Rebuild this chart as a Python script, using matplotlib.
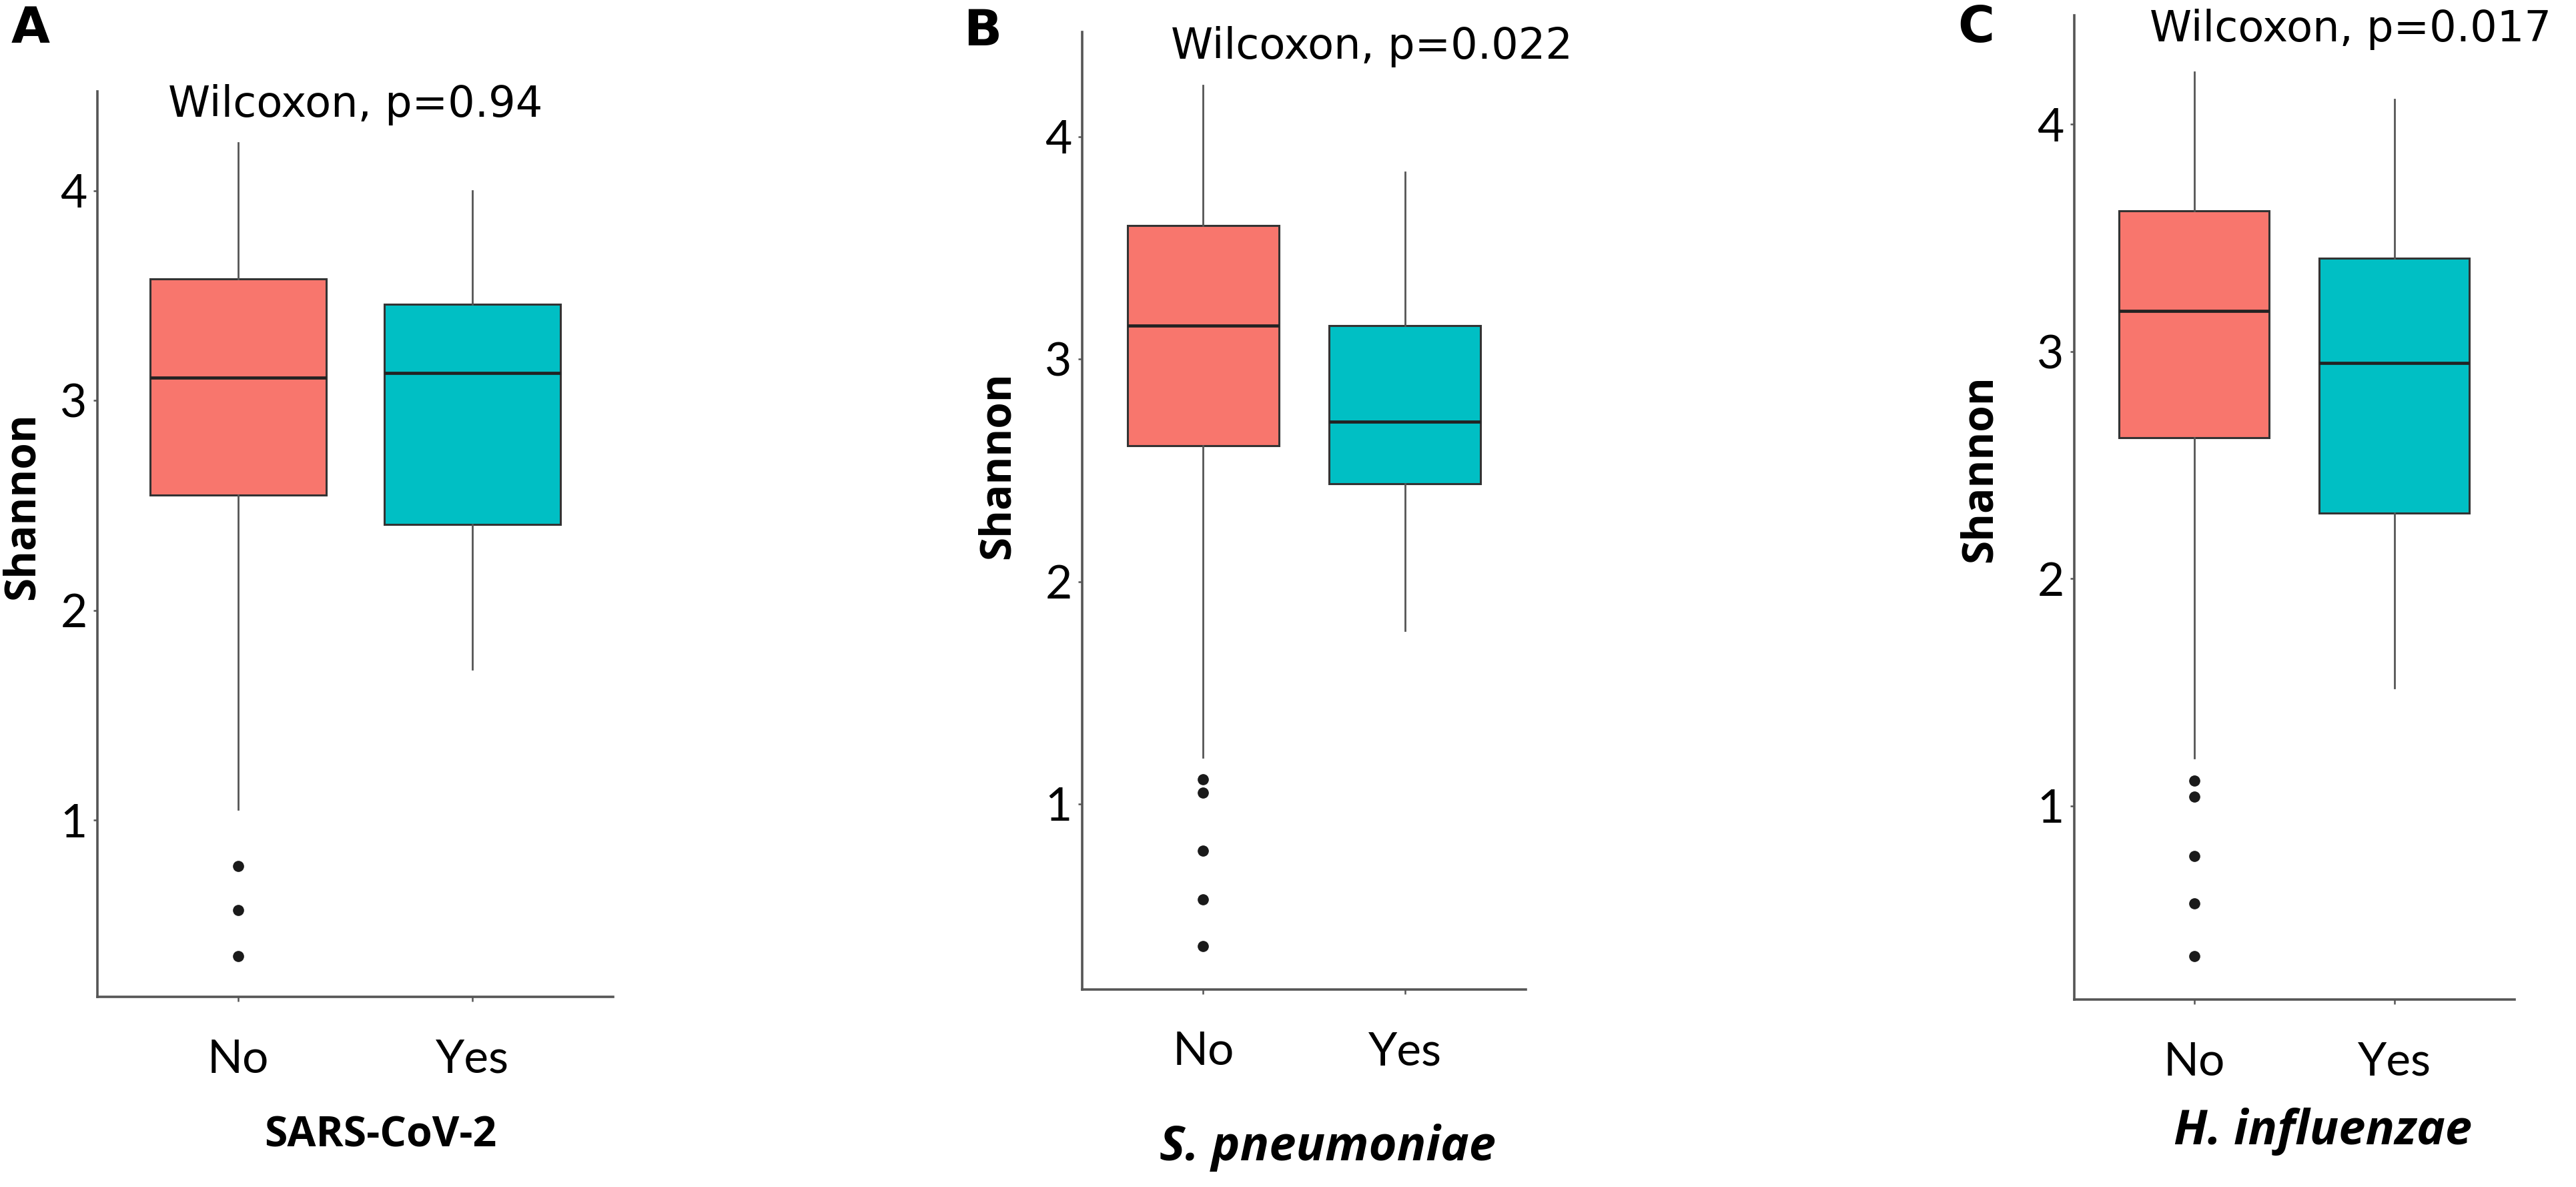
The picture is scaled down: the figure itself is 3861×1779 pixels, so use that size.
import matplotlib
matplotlib.use("Agg")
import matplotlib.pyplot as plt

# box statistics (Shannon index)
groups = ["No", "Yes"]
panel_letters = ["A", "B", "C"]
xlabels = ["SARS-CoV-2", "S. pneumoniae", "H. influenzae"]
xlabel_italic = [False, True, True]
p_texts = ["Wilcoxon, p=0.94", "Wilcoxon, p=0.022", "Wilcoxon, p=0.017"]

whislo = [[1.05, 1.72], [1.21, 1.78], [1.21, 1.52]]
q1 = [[2.55, 2.41], [2.61, 2.44], [2.62, 2.29]]
med = [[3.11, 3.13], [3.15, 2.72], [3.18, 2.95]]
q3 = [[3.58, 3.46], [3.60, 3.15], [3.62, 3.41]]
whishi = [[4.23, 4.00], [4.23, 3.84], [4.23, 4.11]]
fliers = [
    [[0.78, 0.57, 0.35], []],
    [[1.11, 1.05, 0.79, 0.57, 0.36], []],
    [[1.11, 1.04, 0.78, 0.57, 0.34], []],
]
yticks = [1, 2, 3, 4]

colors = ["#F8766D", "#00BFC4"]

# layout in pixels of the 3862x1779 canvas: left, top, right, bottom of each panel
W, H = 3862, 1779
boxes_px = [(146, 137, 919, 1494), (1622, 48, 2287, 1483), (3109, 23, 3769, 1498)]
ylims = [(0.157, 4.474), (0.166, 4.471), (0.148, 4.48)]
ptext_pos = [(1.5, 4.41), (1.835, 4.405), (1.78, 4.417)]
xlab_pos = [(0.549, -0.153), (0.553, -0.165), (0.564, -0.134)]
ylab_pos = [(-0.145, 0.542), (-0.19, 0.547), (-0.213, 0.539)]
letter_pos = [(46, 44), (1473, 48), (2962, 43)]

fig = plt.figure(figsize=(W / 100, H / 100), dpi=100)
axis_col = "#555555"

for i in range(3):
    l, t, r, b = boxes_px[i]
    ax = fig.add_axes([l / W, (H - b) / H, (r - l) / W, (b - t) / H])

    stats = []
    for j in range(2):
        stats.append(dict(med=med[i][j], q1=q1[i][j], q3=q3[i][j],
                          whislo=whislo[i][j], whishi=whishi[i][j],
                          fliers=fliers[i][j], label=groups[j]))
    bp = ax.bxp(stats, positions=[1, 2], widths=0.75, patch_artist=True,
                showcaps=False,
                boxprops=dict(edgecolor="#333333", linewidth=2.2),
                whiskerprops=dict(color="#555555", linewidth=2.0),
                medianprops=dict(color="#222222", linewidth=3.4),
                flierprops=dict(marker="o", markerfacecolor="#1a1a1a",
                                markeredgecolor="#1a1a1a", markersize=11))
    for patch, c in zip(bp["boxes"], colors):
        patch.set_facecolor(c)

    ax.set_xlim(0.4, 2.6)
    ax.set_ylim(*ylims[i])
    ax.set_yticks(yticks)
    ax.set_xticks([1, 2])
    ax.set_xticklabels(groups)

    for s in ["top", "right"]:
        ax.spines[s].set_visible(False)
    for s in ["left", "bottom"]:
        ax.spines[s].set_color(axis_col)
        ax.spines[s].set_linewidth(2.6)

    ax.tick_params(axis="y", labelsize=50, length=4, width=1.8,
                   color=axis_col, pad=7)
    ax.tick_params(axis="x", labelsize=50, length=5, width=1.8,
                   color=axis_col, pad=40)
    for lab in ax.get_xticklabels() + ax.get_yticklabels():
        lab.set_family("Lato")

    ax.text(ptext_pos[i][0], ptext_pos[i][1], p_texts[i], fontsize=46,
            ha="center", va="center", clip_on=False)

    ax.set_xlabel(xlabels[i], fontsize=52 if xlabel_italic[i] else 45,
                  fontweight="bold", family="Open Sans",
                  style="italic" if xlabel_italic[i] else "normal")
    ax.xaxis.set_label_coords(*xlab_pos[i])
    ax.xaxis.label.set_va("center")

    ax.set_ylabel("Shannon", fontsize=46, fontweight="bold", family="Open Sans")
    ax.yaxis.set_label_coords(*ylab_pos[i])
    ax.yaxis.label.set_va("center")

    fig.text(letter_pos[i][0] / W, 1 - letter_pos[i][1] / H, panel_letters[i],
             fontsize=54, fontweight="bold", ha="center", va="center")

fig.savefig("out.png", dpi=100, facecolor="white")
